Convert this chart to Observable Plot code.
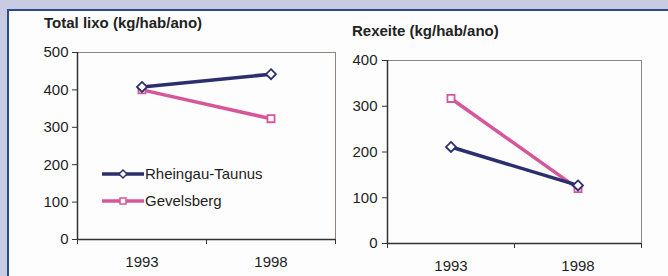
<!DOCTYPE html>
<html><head><meta charset="utf-8">
<script src="https://cdn.jsdelivr.net/npm/d3@7"></script>
<script src="https://cdn.jsdelivr.net/npm/@observablehq/plot@0.6"></script>
<style>
html,body{margin:0;padding:0;}
#wrap{position:relative;width:668px;height:276px;background:#c9cbe2;overflow:hidden;font-family:"Liberation Sans",Arial,sans-serif;}
#panel{position:absolute;left:7px;top:9px;width:700px;height:300px;background:#fdfdfd;border-left:2px solid #2d4a8a;border-top:2px solid #2d4a8a;}
.title{position:absolute;font-weight:bold;font-size:15px;color:#222;white-space:nowrap;}
</style></head>
<body>
<div id="wrap"><div id="panel"></div></div>
<script>
const years = ["1993", "1998"];
const seriesNames = ["Rheingau-Taunus", "Gevelsberg"];
const colors = ["#2c2f6e", "#d5579a"];
const symbols = ["diamond2", "square"];
// Total lixo (kg/hab/ano)
const totalRheingau = [408, 442];
const totalGevelsberg = [400, 323];
// Rexeite (kg/hab/ano)
const restRheingau = [211, 127];
const restGevelsberg = [317, 120];
const yTicksLeft = [0, 100, 200, 300, 400, 500];
const yTicksRight = [0, 100, 200, 300, 400];

function rows(a, b) {
  const out = [];
  years.forEach((yr, i) => out.push({i: i + 0.5, year: yr, s: seriesNames[0], v: a[i]}));
  years.forEach((yr, i) => out.push({i: i + 0.5, year: yr, s: seriesNames[1], v: b[i]}));
  return out;
}

function chart(data, opts) {
  return Plot.plot({
    width: opts.width, height: 276,
    marginLeft: opts.ml, marginRight: opts.mr, marginTop: opts.mt, marginBottom: opts.mb,
    style: {fontFamily: '"Liberation Sans", Arial, sans-serif', fontSize: "15px", color: "#1e1e1e", background: "transparent", overflow: "visible"},
    x: {type: "linear", domain: [0, years.length]},
    y: {domain: opts.ydomain},
    color: {domain: seriesNames, range: colors},
    symbol: {domain: seriesNames, range: symbols},
    marks: [
      Plot.frame({stroke: "#8e8580", strokeWidth: 1}),
      Plot.axisY({ticks: opts.yticks, tickSize: 5, tickPadding: opts.yPad, tickFormat: d => String(d), stroke: "#333", label: null}),
      Plot.axisX({ticks: d3.range(years.length + 1), tickSize: 5, tickFormat: () => "", stroke: "#333", label: null}),
      Plot.axisX({ticks: years.map((_, i) => i + 0.5), tickSize: 0, tickPadding: 17, tickFormat: d => years[Math.round(d - 0.5)], label: null}),
      Plot.ruleX([0], {stroke: "#333", strokeWidth: 1.5}),
      Plot.ruleY([0], {stroke: "#333", strokeWidth: 1.5}),
      Plot.line(data.filter(d => d.s === seriesNames[1]), {x: "i", y: "v", stroke: "s", strokeWidth: 3.5}),
      Plot.line(data.filter(d => d.s === seriesNames[0]), {x: "i", y: "v", stroke: "s", strokeWidth: 3.5}),
      Plot.dot(data.filter(d => d.s === seriesNames[1]), {x: "i", y: "v", stroke: "s", symbol: "s", fill: "white", r: 4, strokeWidth: 1.8}),
      Plot.dot(data.filter(d => d.s === seriesNames[0]), {x: "i", y: "v", stroke: "s", symbol: "s", fill: "white", r: 4.5, strokeWidth: 1.8})
    ]
  });
}

const wrap = document.getElementById("wrap");
const left = chart(rows(totalRheingau, totalGevelsberg), {width: 340, ml: 77, mr: 5, mt: 52, mb: 37, ydomain: [0, 500], yticks: yTicksLeft, yPad: 4});
left.style.position = "absolute"; left.style.left = "0px"; left.style.top = "0px";
wrap.appendChild(left);
const right = chart(rows(restRheingau, restGevelsberg), {width: 334, ml: 53, mr: 27, mt: 60, mb: 33, ydomain: [0, 400], yticks: yTicksRight, yPad: 5});
right.style.position = "absolute"; right.style.left = "334px"; right.style.top = "0px";
wrap.appendChild(right);

function title(text, x, y) {
  const t = document.createElement("div");
  t.className = "title"; t.textContent = text;
  t.style.left = x + "px"; t.style.top = y + "px";
  wrap.appendChild(t);
}
title("Total lixo (kg/hab/ano)", 44, 14);
title("Rexeite (kg/hab/ano)", 352, 22);

// legend
const ns = "http://www.w3.org/2000/svg";
const lg = document.createElementNS(ns, "svg");
lg.setAttribute("width", 200); lg.setAttribute("height", 60);
lg.style.position = "absolute"; lg.style.left = "100px"; lg.style.top = "160px";
seriesNames.forEach((name, k) => {
  const y = 14 + k * 27;
  const g = document.createElementNS(ns, "g");
  const ln = document.createElementNS(ns, "line");
  ln.setAttribute("x1", 2); ln.setAttribute("x2", 44); ln.setAttribute("y1", y); ln.setAttribute("y2", y);
  ln.setAttribute("stroke", colors[k]); ln.setAttribute("stroke-width", 3.5);
  g.appendChild(ln);
  const m = document.createElementNS(ns, "path");
  const d = k === 0 ? `M23,${y - 4}L27,${y}L23,${y + 4}L19,${y}Z` : `M20,${y - 3}h6v6h-6Z`;
  m.setAttribute("d", d); m.setAttribute("fill", "white"); m.setAttribute("stroke", colors[k]); m.setAttribute("stroke-width", 1.5);
  g.appendChild(m);
  const tx = document.createElementNS(ns, "text");
  tx.setAttribute("x", 45); tx.setAttribute("y", y + 5);
  tx.setAttribute("font-family", '"Liberation Sans", Arial, sans-serif'); tx.setAttribute("font-size", 15); tx.setAttribute("fill", "#1e1e1e");
  tx.textContent = name;
  g.appendChild(tx);
  lg.appendChild(g);
});
wrap.appendChild(lg);
</script>
</body></html>
